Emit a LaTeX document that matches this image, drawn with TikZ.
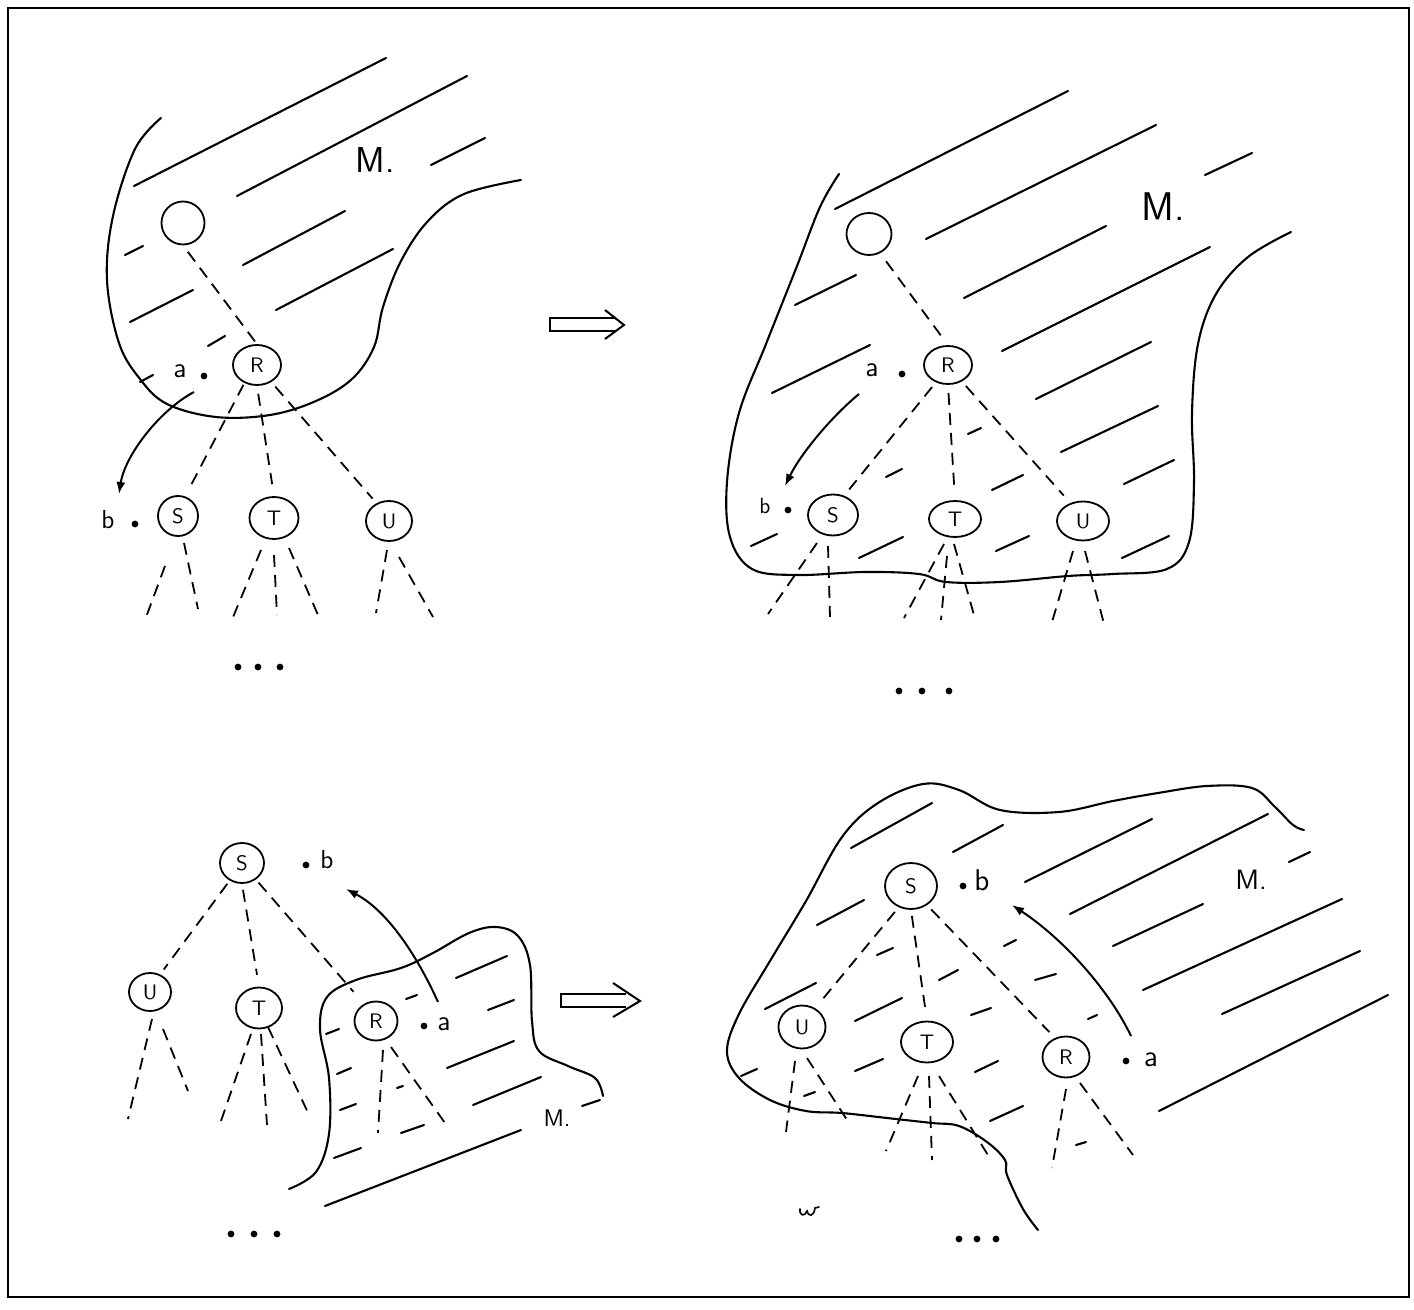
\documentclass[tikz,border=0pt]{standalone}
\usetikzlibrary{shapes.geometric,arrows.meta}
\begin{document}
\begin{tikzpicture}[x=0.5pt,y=-0.5pt,
  frame/.style={line width=1.4pt},
  bd/.style={line width=1.05pt, line cap=round, line join=round},
  ht/.style={line width=1.05pt, line cap=round},
  dsh/.style={line width=0.9pt, dash pattern=on 6pt off 4pt},
  nd/.style={draw, ellipse, line width=0.9pt, inner sep=0pt, font=\sffamily\fontsize{10.5}{10.5}\selectfont},
  sz/.style 2 args={minimum width=#1pt, minimum height=#2pt},
  lbl/.style={inner sep=0pt, font=\sffamily\fontsize{#1}{#1}\selectfont},
  dotn/.style={circle, fill, inner sep=0pt, minimum size=3.4pt},
  arr/.style={line width=1pt, -{Latex[length=6pt,width=4.5pt]}},
  imp/.style={line width=1pt, line join=miter}]
\useasboundingbox (0,0) rectangle (1414,1310);
\draw[frame] (8,8) rectangle (1409,1297);

% ================= Panel 1 (top left) =================
\draw[bd] plot[smooth, tension=0.6] coordinates {(161,118) (135,149) (113,216) (107,280) (119,343) (140,379) (167,404) (216,417) (270,415) (316,401) (352,379) (374,347) (383,307) (401,261) (428,221) (464,194) (521,180)};
\draw[ht] (134,186)--(386,58) (237,196)--(467,76) (431,165)--(485,138)
  (125,255)--(143,246) (243,265)--(345,211) (130,322)--(193,290)
  (276,310)--(393,249) (208,346)--(225,336) (140,382)--(153,375);
\node[lbl=18] (M1) at (375,160) {M.};
\node[nd, sz={21.5}{21.5}] (r1) at (183,223) {};
\node[nd, sz={24}{20}] (R1) at (257,365) {R};
\node[nd, sz={20}{20}] (S1) at (178,516) {S};
\node[nd, sz={24.5}{21}] (T1) at (274,518) {T};
\node[nd, sz={23}{20}] (U1) at (389,521) {U};
\node[lbl=14] (a1) at (180,371) {a};
\node[dotn] (da1) at (204,376) {};
\node[lbl=13] (b1) at (108,520) {b};
\node[dotn] (db1) at (135,524) {};
\draw[dsh, shorten <=4pt, shorten >=1pt] (r1.south) -- (R1.north);
\draw[dsh, shorten <=1pt, shorten >=3pt] (R1.235) -- (S1.70);
\draw[dsh, shorten <=4pt, shorten >=6pt] (R1.south) -- (T1.north);
\draw[dsh, shorten <=3pt, shorten >=3pt] (R1.310) -- (U1.125);
\draw[dsh] (165,566)--(145,620) (184,543)--(198,609)
  (261,550)--(231,622) (274,555)--(277,615) (289,548)--(318,615)
  (387,550)--(376,613) (399,557)--(433,617);
\coordinate (s1) at (194,392);
\coordinate (e1) at (119,494);
\draw[arr] (s1) .. controls (160,410) and (125,455) .. (e1);
\fill (238,667) circle (1.7pt) (258,667) circle (1.7pt) (280,667) circle (1.7pt);
\draw[imp] (615,318) -- (550,318) -- (550,331) -- (616,331);
\draw[imp] (605,310) -- (624,325) -- (605,339);

% ================= Panel 2 (top right) =================
\draw[bd] plot[smooth, tension=0.6] coordinates {(839,174) (820,207) (797,266) (766,344) (739,413) (727,482) (730,537) (752,569) (797,575) (865,572) (919,574) (946,582) (1000,582) (1068,576) (1113,574) (1167,569) (1189,542) (1194,482) (1192,413) (1198,344) (1216,294) (1248,257) (1291,232)};
\draw[ht] (835,209)--(1068,91) (926,239)--(1156,125) (1205,175)--(1252,153)
  (795,305)--(856,275) (964,298)--(1106,226) (1002,351)--(1210,247)
  (772,393)--(870,345) (1036,399)--(1151,342) (968,434)--(981,428)
  (1061,452)--(1158,406) (886,477)--(902,469) (992,490)--(1023,475)
  (1124,484)--(1174,460) (751,546)--(777,534) (859,558)--(903,537)
  (996,551)--(1029,536) (1122,558)--(1169,536);
\node[lbl=20] (M2) at (1163,207) {M.};
\node[nd, sz={22.5}{21}] (r2) at (869,234) {};
\node[nd, sz={24}{19}] (R2) at (948,365) {R};
\node[nd, sz={25}{20.5}] (S2) at (833,515) {S};
\node[nd, sz={26}{18}] (T2) at (955,519) {T};
\node[nd, sz={26}{19.5}] (U2) at (1083,521) {U};
\node[lbl=14] (a2) at (872,370) {a};
\node[dotn] (da2) at (902,374) {};
\node[lbl=11] (b2) at (765,506) {b};
\node[dotn] (db2) at (788,510) {};
\draw[dsh, shorten <=5pt, shorten >=5pt] (r2.300) -- (R2.north);
\draw[dsh, shorten <=3pt, shorten >=4pt] (R2.235) -- (S2.60);
\draw[dsh, shorten <=4pt, shorten >=6pt] (R2.south) -- (T2.north);
\draw[dsh, shorten <=3pt, shorten >=5pt] (R2.310) -- (U2.125);
\draw[dsh] (817,543)--(768,614) (828,546)--(830,617)
  (944,544)--(904,618) (947,556)--(941,620) (954,544)--(974,615)
  (1073,551)--(1052,622) (1085,551)--(1104,624);
\coordinate (s2) at (859,394);
\coordinate (e2) at (785,486);
\draw[arr] (s2) .. controls (830,418) and (800,455) .. (e2);
\fill (899,691) circle (1.7pt) (922,691) circle (1.7pt) (949,691) circle (1.7pt);

% ================= Panel 3 (bottom left) =================
\draw[bd] plot[smooth, tension=0.6] coordinates {(289,1189) (316,1172) (329,1134) (329,1078) (320,1029) (327,997) (356,980) (401,968) (433,953) (469,933) (496,927) (518,936) (530,965) (532,1021) (539,1051) (568,1066) (595,1078) (603,1096)};
\draw[ht] (456,978)--(507,956) (406,999)--(417,995) (488,1010)--(514,1000)
  (326,1034)--(339,1029) (447,1068)--(514,1041) (337,1074)--(351,1068)
  (397,1088)--(403,1086) (473,1105)--(541,1077) (582,1106)--(600,1100)
  (340,1110)--(356,1104) (401,1133)--(424,1125) (334,1158)--(361,1148)
  (325,1206)--(521,1130);
\node[lbl=12] (M3) at (557,1118) {M.};
\node[nd, sz={22}{20}] (S3) at (242,863) {S};
\node[nd, sz={21}{19}] (U3) at (150,992) {U};
\node[nd, sz={23}{20.5}] (T3) at (259,1008) {T};
\node[nd, sz={21.5}{19.5}] (R3) at (376,1021) {R};
\node[dotn] (db3) at (306,865) {};
\node[lbl=13] (b3) at (327,860) {b};
\node[dotn] (da3) at (424,1026) {};
\node[lbl=14] (a3) at (444,1024) {a};
\draw[dsh, shorten <=2pt, shorten >=3pt] (S3.235) -- (U3.60);
\draw[dsh, shorten <=3pt, shorten >=6pt] (S3.south) -- (T3.north);
\draw[dsh, shorten <=2pt, shorten >=8pt] (S3.310) -- (R3.125);
\draw[dsh] (152,1019)--(128,1119) (163,1029)--(188,1091)
  (251,1034)--(221,1121) (261,1034)--(267,1125) (268,1027)--(310,1117)
  (383,1050)--(378,1133) (391,1047)--(445,1123);
\coordinate (s3) at (438,1002);
\coordinate (e3) at (346,889);
\draw[arr] (s3) .. controls (420,962) and (390,912) .. (e3);
\fill (231,1234) circle (1.7pt) (254,1234) circle (1.7pt) (277,1234) circle (1.7pt);
\draw[imp] (626,994) -- (561,994) -- (561,1007) -- (626,1007);
\draw[imp] (613,983) -- (640,1001) -- (613,1017);

% ================= Panel 4 (bottom right) =================
\draw[bd] plot[smooth, tension=0.6] coordinates {(1038,1230) (1023,1209) (1007,1175) (1005,1160) (987,1142) (959,1126) (932,1123) (887,1118) (842,1113) (806,1111) (770,1100) (739,1078) (727,1051) (739,1014) (770,961) (806,901) (842,837) (878,803) (923,784) (959,790) (1000,810) (1059,812) (1113,801) (1158,793) (1207,786) (1252,788) (1275,807) (1293,825) (1304,830)};
\draw[ht] (851,848)--(932,803) (953,852)--(1003,825) (1025,882)--(1152,819)
  (1070,914)--(1268,814) (1289,862)--(1310,852) (817,925)--(864,900)
  (1113,946)--(1203,904) (877,955)--(893,948) (1004,946)--(1016,940)
  (1143,990)--(1342,899) (765,1009)--(816,983) (939,980)--(958,970)
  (1035,980)--(1056,974) (855,1021)--(902,998) (971,1015)--(991,1008)
  (1088,1019)--(1097,1015) (1222,1014)--(1360,951) (741,1076)--(757,1069)
  (855,1071)--(883,1059) (975,1072)--(998,1061) (804,1096)--(815,1092)
  (990,1121)--(1023,1106) (1159,1111)--(1388,995) (1076,1145)--(1086,1142);
\node[lbl=14] (M4) at (1251,880) {M.};
\node[nd, sz={26}{23}] (S4) at (911,886) {S};
\node[nd, sz={23.5}{21.5}] (U4) at (802,1027) {U};
\node[nd, sz={26}{20.5}] (T4) at (927,1042) {T};
\node[nd, sz={23.5}{20.5}] (R4) at (1066,1057) {R};
\node[dotn] (db4) at (963,886) {};
\node[lbl=15] (b4) at (982,880) {b};
\node[dotn] (da4) at (1126,1061) {};
\node[lbl=15] (a4) at (1151,1060) {a};
\draw[dsh, shorten <=3pt, shorten >=3pt] (S4.240) -- (U4.55);
\draw[dsh, shorten <=3pt, shorten >=4pt] (S4.south) -- (T4.north);
\draw[dsh, shorten <=3pt, shorten >=4pt] (S4.310) -- (R4.120);
\draw[dsh] (795,1061)--(786,1132) (807,1058)--(849,1123)
  (918,1076)--(886,1151) (929,1076)--(932,1160) (939,1076)--(991,1160)
  (1066,1089)--(1052,1168) (1080,1083)--(1133,1155);
\coordinate (s4) at (1131,1036);
\coordinate (e4) at (1012,905);
\draw[arr] (s4) .. controls (1108,988) and (1062,938) .. (e4);
\fill (959,1239) circle (1.7pt) (977,1239) circle (1.7pt) (996,1239) circle (1.7pt);
\draw[line width=0.8pt, line cap=round] (800,1209) .. controls (799,1216) and (805,1217) .. (807,1211) .. controls (808,1217) and (814,1217) .. (815,1208) -- (819,1207);
\end{tikzpicture}
\end{document}
